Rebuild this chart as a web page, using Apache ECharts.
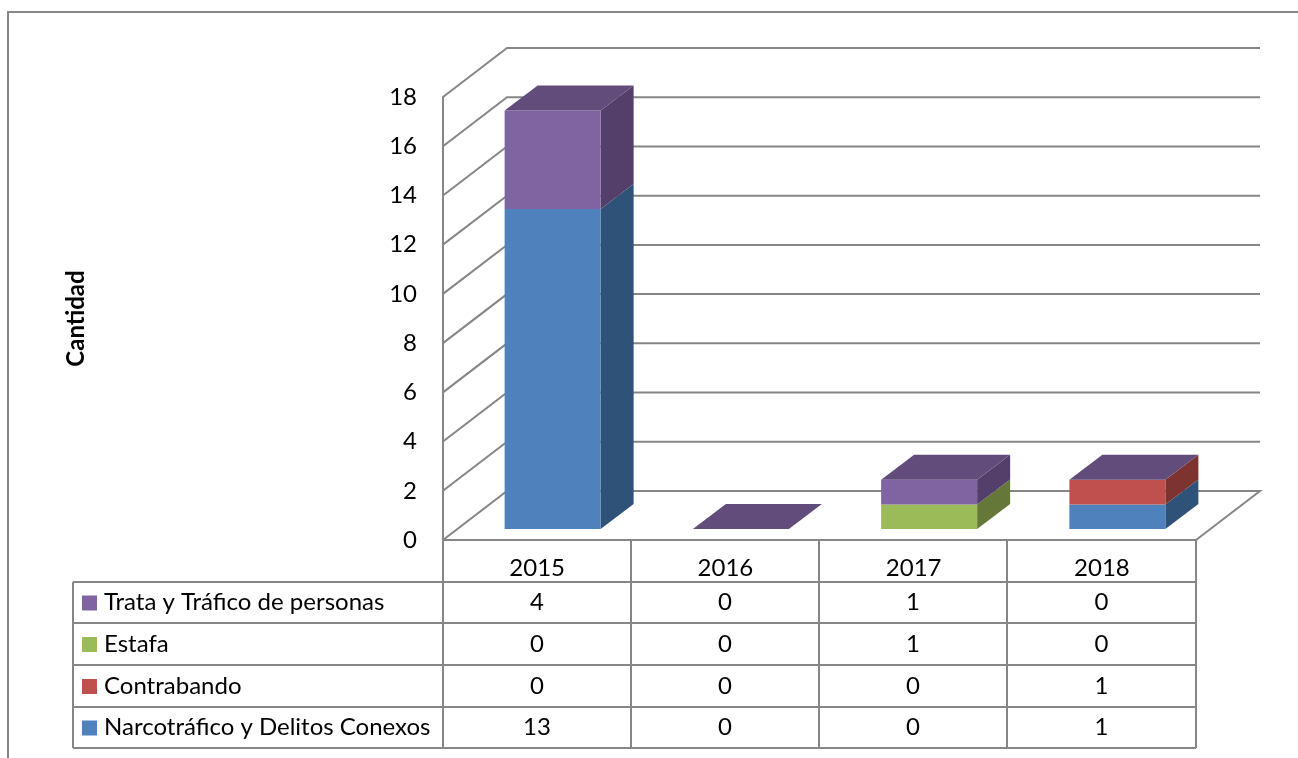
<!DOCTYPE html>
<html>
<head>
<meta charset="utf-8">
<title>Cantidad por año</title>
<script src="https://cdn.jsdelivr.net/npm/echarts@6/dist/echarts.min.js"></script>
<style>
  * { margin: 0; padding: 0; }
  body { background: #fff; overflow: hidden; }
  #chart { width: 1298px; height: 758px; }
</style>
</head>
<body>
<div id="chart"></div>
<script>
var years = ['2015', '2016', '2017', '2018'];
var yTicks = [0, 2, 4, 6, 8, 10, 12, 14, 16, 18];
var narcotrafico = [13, 0, 0, 1];
var contrabando = [0, 0, 0, 1];
var estafa = [0, 0, 1, 0];
var trata = [4, 0, 1, 0];

var font = 'Lato';
var lineColor = '#868686';

// front = frente, side = lateral, top = tapa
var colors = {
  narco: { front: '#4f81bd', side: '#2f5279' },
  contra: { front: '#c0504d', side: '#7d3431' },
  estafa: { front: '#9bbb59', side: '#667839' },
  trata: { front: '#8064a2', side: '#543f6b', top: '#624c7c' }
};

// filas de la tabla, en el orden en que se ven
var tableRows = [
  { name: 'Trata y Tráfico de personas', values: trata, color: colors.trata.front },
  { name: 'Estafa', values: estafa, color: colors.estafa.front },
  { name: 'Contrabando', values: contrabando, color: colors.contra.front },
  { name: 'Narcotráfico y Delitos Conexos', values: narcotrafico, color: colors.narco.front }
];

var gridLeft = 443, gridTop = 97, gridWidth = 753, gridHeight = 443;
var wallDx = 64, wallDy = 49;
var barDx = 33, barDy = 25;
var barShiftX = 15.5, barShiftY = 11;
var barWidth = 96;

function wallItem(params, api) {
  var y = api.coord([0, api.value(0)])[1];
  var left = params.coordSys.x;
  var right = left + params.coordSys.width;
  var pts = [[left, y], [left + wallDx, y - wallDy], [right + wallDx, y - wallDy]];
  if (api.value(0) === 0) {
    pts.push([right, y]);
  }
  return {
    type: 'polyline',
    shape: { points: pts },
    style: { fill: null, stroke: lineColor, lineWidth: 2 }
  };
}

function stackSeries(name, values, below, color) {
  var data = values.map(function (v, i) {
    var base = 0;
    below.forEach(function (b) { base += b[i]; });
    return [i, base, base + v];
  });
  return {
    name: name,
    type: 'custom',
    data: data,
    encode: { x: 0, y: [1, 2] },
    clip: false,
    silent: true,
    renderItem: function (params, api) {
      var c = api.value(0);
      var p0 = api.coord([c, api.value(1)]);
      var p1 = api.coord([c, api.value(2)]);
      var x0 = p0[0] + barShiftX - barWidth / 2;
      var x1 = x0 + barWidth;
      var yb = p0[1] - barShiftY;
      var yt = p1[1] - barShiftY;
      var children = [];
      if (yb - yt > 0) {
        children.push({
          type: 'polygon',
          shape: { points: [[x1, yb], [x1 + barDx, yb - barDy], [x1 + barDx, yt - barDy], [x1, yt]] },
          style: { fill: color.side }
        });
        children.push({
          type: 'rect',
          shape: { x: x0, y: yt, width: barWidth, height: yb - yt },
          style: { fill: color.front }
        });
      }
      if (color.top) {
        children.push({
          type: 'polygon',
          shape: { points: [[x0, yt], [x1, yt], [x1 + barDx, yt - barDy], [x0 + barDx, yt - barDy]] },
          style: { fill: color.top }
        });
      }
      return { type: 'group', children: children };
    }
  };
}

function tableGraphic() {
  var els = [];
  var rowY = [582, 623, 665, 707, 748];
  var colX = [443, 631, 819, 1007, 1196];
  var tableLeft = 73;
  function line(x1, y1, x2, y2) {
    els.push({
      type: 'line',
      shape: { x1: x1, y1: y1, x2: x2, y2: y2 },
      style: { stroke: lineColor, lineWidth: 2 }
    });
  }
  // marco exterior del grafico
  els.push({
    type: 'polyline',
    shape: { points: [[8, 758], [8, 12], [1298, 12]] },
    style: { fill: null, stroke: lineColor, lineWidth: 2 }
  });
  rowY.forEach(function (y) { line(tableLeft, y, colX[4], y); });
  colX.forEach(function (x) { line(x, 540, x, rowY[4]); });
  line(tableLeft, rowY[0], tableLeft, rowY[4]);
  tableRows.forEach(function (row, r) {
    var cy = (rowY[r] + rowY[r + 1]) / 2;
    els.push({
      type: 'rect',
      shape: { x: 82, y: cy - 7, width: 15, height: 15 },
      style: { fill: row.color }
    });
    els.push({
      type: 'text',
      x: 104,
      y: cy,
      style: { text: row.name, font: '24px ' + font, fill: '#000', textAlign: 'left', textVerticalAlign: 'middle' }
    });
    row.values.forEach(function (v, c) {
      els.push({
        type: 'text',
        x: (colX[c] + colX[c + 1]) / 2,
        y: cy,
        style: { text: String(v), font: '24px ' + font, fill: '#000', textAlign: 'center', textVerticalAlign: 'middle' }
      });
    });
  });
  return els;
}

var chart = echarts.init(document.getElementById('chart'), null, { renderer: 'canvas' });
chart.setOption({
  animation: false,
  backgroundColor: '#fff',
  grid: { left: gridLeft, top: gridTop, width: gridWidth, height: gridHeight },
  xAxis: {
    type: 'category',
    data: years,
    axisLine: { lineStyle: { color: lineColor, width: 2 } },
    axisTick: { show: false },
    axisLabel: { fontFamily: font, fontSize: 24, color: '#000', margin: 16 }
  },
  yAxis: {
    type: 'value',
    min: 0,
    max: 18,
    interval: 2,
    name: 'Cantidad',
    nameLocation: 'middle',
    nameRotate: 90,
    nameGap: 355,
    nameTextStyle: { fontFamily: font, fontSize: 24, fontWeight: 'bold', color: '#000' },
    axisLine: { show: true, lineStyle: { color: lineColor, width: 2 } },
    axisTick: { show: false },
    splitLine: { show: false },
    axisLabel: { fontFamily: font, fontSize: 24, color: '#000', margin: 26 }
  },
  series: [
    {
      type: 'custom',
      data: yTicks.map(function (t) { return [t]; }),
      encode: { y: 0 },
      clip: false,
      silent: true,
      renderItem: wallItem
    },
    stackSeries('Narcotráfico y Delitos Conexos', narcotrafico, [], colors.narco),
    stackSeries('Contrabando', contrabando, [narcotrafico], colors.contra),
    stackSeries('Estafa', estafa, [narcotrafico, contrabando], colors.estafa),
    stackSeries('Trata y Tráfico de personas', trata, [narcotrafico, contrabando, estafa], colors.trata)
  ],
  graphic: tableGraphic()
});
</script>
</body>
</html>
